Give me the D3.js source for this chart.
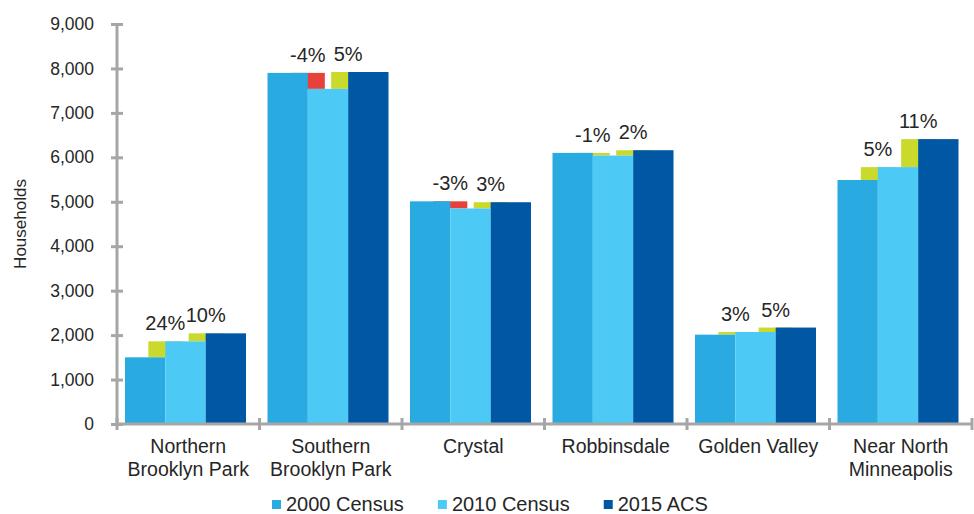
<!DOCTYPE html>
<html>
<head>
<meta charset="utf-8">
<script src="https://cdn.jsdelivr.net/npm/d3@7"></script>
<style>
	body { margin: 0; background: #fff; }
	svg { display: block; font-family: "Liberation Sans", Arial, sans-serif; }
</style>
</head>
<body>
<div id="chart"></div>
<script>
// ---------- DATA ----------
const categories = [
	["Northern", "Brooklyn Park"],
	["Southern", "Brooklyn Park"],
	["Crystal"],
	["Robbinsdale"],
	["Golden Valley"],
	["Near North", "Minneapolis"],
];
const seriesNames = ["2000 Census", "2010 Census", "2015 ACS"];
const census2000 = [1500, 7900, 5010, 6100, 2010, 5490];
const census2010 = [1860, 7540, 4850, 6040, 2070, 5780];
const acs2015 = [2040, 7920, 4990, 6160, 2170, 6410];
const change1Labels = ["24%", "-4%", "-3%", "-1%", "3%", "5%"];
const change2Labels = ["10%", "5%", "3%", "2%", "5%", "11%"];
const change1Kind = ["up", "down", "down", "up", "up", "up"];
const change2Kind = ["up", "up", "up", "up", "up", "up"];
const yTicks = [0, 1000, 2000, 3000, 4000, 5000, 6000, 7000, 8000, 9000];

const colorDef = {
	c2000: "#29abe2",
	c2010: "#4cc9f5",
	c2015: "#0058a5",
	up: "#c9da2c",
	down: "#e8413c",
	axis: "#a6a6a6",
	text: "#262626",
};
const seriesColors = [colorDef.c2000, colorDef.c2010, colorDef.c2015];

const size = { w: 974, h: 514 };
const margin = { top: 24, right: 2, bottom: 90, left: 117 };

const svg = d3
	.select("#chart")
	.append("svg")
	.attr("width", size.w)
	.attr("height", size.h);

const keys = categories.map((d) => d.join(" "));
const values = [census2000, census2010, acs2015];

const x0 = d3
	.scaleBand()
	.domain(keys)
	.range([margin.left, size.w - margin.right]);
const x1 = d3.scaleBand().domain(d3.range(3)).range([8, 129]);
const y = d3
	.scaleLinear()
	.domain([0, 9000])
	.range([size.h - margin.bottom, margin.top]);

const changeW = 34;

// change bars sit behind the main bars, centred on the seam between two bars
const changes = [];
keys.forEach((k, i) => {
	changes.push({ k, from: census2000[i], to: census2010[i], seam: 1, kind: change1Kind[i], label: change1Labels[i] });
	changes.push({ k, from: census2010[i], to: acs2015[i], seam: 2, kind: change2Kind[i], label: change2Labels[i] });
});

svg
	.append("g")
	.selectAll("rect")
	.data(changes)
	.join("rect")
	.attr("x", (d) => x0(d.k) + x1(d.seam) - changeW / 2)
	.attr("width", changeW)
	.attr("y", (d) => y(Math.max(d.from, d.to)))
	.attr("height", (d) => Math.abs(y(d.from) - y(d.to)))
	.attr("fill", (d) => colorDef[d.kind]);

// main bars
values.forEach((arr, s) => {
	svg
		.append("g")
		.selectAll("rect")
		.data(arr)
		.join("rect")
		.attr("x", (d, i) => x0(keys[i]) + x1(s))
		.attr("width", x1.bandwidth())
		.attr("y", (d) => y(d))
		.attr("height", (d) => y(0) - y(d))
		.attr("fill", seriesColors[s]);
});

// percentage labels
svg
	.append("g")
	.selectAll("text")
	.data(changes)
	.join("text")
	.attr("x", (d) => x0(d.k) + x1(d.seam))
	.attr("y", (d) => y(Math.max(d.from, d.to)) - 11)
	.attr("text-anchor", "middle")
	.attr("font-size", 20)
	.attr("fill", colorDef.text)
	.text((d) => d.label);

// y axis
const yAxis = svg
	.append("g")
	.attr("transform", `translate(${margin.left},0)`)
	.call(
		d3.axisLeft(y)
			.tickValues(yTicks)
			.tickSize(6)
			.tickFormat(d3.format(","))
	);
yAxis.select(".domain").attr("d", `M0,${y(9000)}V${y(0)}`);
yAxis.selectAll(".tick line").attr("x1", -6).attr("x2", 6);
yAxis.selectAll("path, line").attr("stroke", colorDef.axis).attr("stroke-width", 3);
yAxis
	.selectAll("text")
	.attr("x", -23)
	.attr("font-size", 17.5)
	.attr("font-family", "Liberation Sans, Arial, sans-serif")
	.attr("fill", colorDef.text);

// x axis
const xAxis = svg.append("g").attr("transform", `translate(0,${y(0)})`);
xAxis
	.append("line")
	.attr("x1", margin.left)
	.attr("x2", size.w - margin.right)
	.attr("stroke", colorDef.axis)
	.attr("stroke-width", 3);
xAxis
	.selectAll(".xtick")
	.data(keys.map((k) => x0(k)).concat([x0.range()[1]]))
	.join("line")
	.attr("x1", (d) => d)
	.attr("x2", (d) => d)
	.attr("y1", -6)
	.attr("y2", 6)
	.attr("stroke", colorDef.axis)
	.attr("stroke-width", 3);

const catLabels = xAxis
	.selectAll(".cat")
	.data(categories)
	.join("text")
	.attr("text-anchor", "middle")
	.attr("font-size", 19.5)
	.attr("fill", colorDef.text)
	.attr("transform", (d, i) => `translate(${x0(keys[i]) + x0.bandwidth() / 2},29)`);
catLabels
	.selectAll("tspan")
	.data((d) => d)
	.join("tspan")
	.attr("x", 0)
	.attr("dy", (d, i) => (i === 0 ? 0 : 23))
	.text((d) => d);

// y title
svg
	.append("text")
	.attr("transform", `translate(26,${(y(0) + y(9000)) / 2}) rotate(-90)`)
	.attr("text-anchor", "middle")
	.attr("font-size", 17)
	.attr("fill", colorDef.text)
	.text("Households");

// legend
const legend = svg.append("g").attr("transform", "translate(272,511)");
let lx = 0;
seriesNames.forEach((name, i) => {
	const item = legend.append("g").attr("transform", `translate(${lx},0)`);
	item
		.append("rect")
		.attr("x", 0)
		.attr("y", -11)
		.attr("width", 9)
		.attr("height", 9)
		.attr("fill", seriesColors[i]);
	const t = item
		.append("text")
		.attr("x", 14)
		.attr("font-size", 20)
		.attr("fill", colorDef.text)
		.text(name);
	lx += 14 + t.node().getComputedTextLength() + 34;
});
</script>
</body>
</html>
